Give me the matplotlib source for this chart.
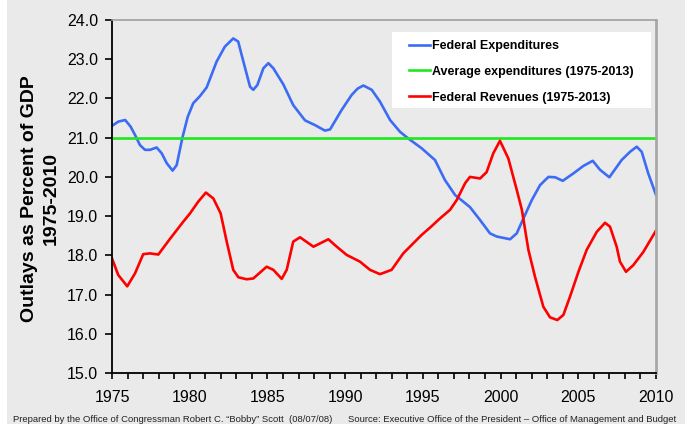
import matplotlib.pyplot as plt
from matplotlib.patches import Rectangle
from matplotlib.ticker import MultipleLocator

# values (fractional years)
exp_years = [1975.0, 1975.41, 1975.85, 1976.2, 1976.48, 1976.8, 1977.12, 1977.45, 1977.87, 1978.2,
             1978.52, 1978.9, 1979.16, 1979.53, 1979.87, 1980.23, 1980.66, 1981.09, 1981.73, 1982.26,
             1982.8, 1983.12, 1983.34, 1983.88, 1984.09, 1984.35, 1984.74, 1985.06, 1985.38, 1986.02,
             1986.66, 1987.42, 1988.06, 1988.7, 1989.03, 1989.78, 1990.42, 1990.8, 1991.17, 1991.71,
             1992.24, 1992.89, 1993.53, 1994.06, 1994.92, 1995.78, 1996.42, 1997.07, 1998.03, 1998.68,
             1999.32, 1999.75, 2000.61, 2001.04, 2001.47, 2002.01, 2002.54, 2003.08, 2003.51, 2004.0,
             2004.69, 2005.33, 2005.93, 2006.4, 2007.0, 2007.79, 2008.33, 2008.76, 2009.08, 2009.5,
             2010.0]
expenditures = [21.30, 21.41, 21.45, 21.28, 21.07, 20.81, 20.69, 20.69, 20.75, 20.60,
                20.35, 20.16, 20.30, 21.00, 21.53, 21.88, 22.06, 22.28, 22.94, 23.32,
                23.53, 23.45, 23.11, 22.30, 22.22, 22.34, 22.77, 22.90, 22.77, 22.36,
                21.83, 21.44, 21.32, 21.18, 21.21, 21.71, 22.09, 22.25, 22.33, 22.22,
                21.92, 21.45, 21.15, 20.98, 20.73, 20.43, 19.92, 19.54, 19.23, 18.90,
                18.56, 18.48, 18.41, 18.56, 18.94, 19.41, 19.79, 20.00, 19.99, 19.90,
                20.09, 20.28, 20.41, 20.18, 19.99, 20.43, 20.64, 20.77, 20.64, 20.09,
                19.54]

rev_years = [1975.0, 1975.4, 1975.98, 1976.48, 1977.01, 1977.44, 1977.98, 1978.73, 1979.59, 1980.02,
             1980.55, 1981.04, 1981.52, 1981.99, 1982.38, 1982.8, 1983.13, 1983.66, 1984.09, 1984.95,
             1985.38, 1985.92, 1986.24, 1986.66, 1987.1, 1987.96, 1988.92, 1989.46, 1990.1, 1990.95,
             1991.6, 1992.24, 1992.99, 1993.74, 1994.92, 1995.5, 1996.1, 1996.75, 1997.18, 1997.72,
             1998.03, 1998.68, 1999.1, 1999.53, 1999.96, 2000.5, 2001.04, 2001.37, 2001.79, 2002.21,
             2002.75, 2003.18, 2003.65, 2004.04, 2004.47, 2005.01, 2005.54, 2006.19, 2006.72, 2007.04,
             2007.47, 2007.68, 2008.07, 2008.54, 2009.19, 2010.0]
revenues = [17.92, 17.50, 17.21, 17.54, 18.03, 18.05, 18.02, 18.42, 18.86, 19.07,
            19.37, 19.60, 19.45, 19.07, 18.35, 17.63, 17.44, 17.39, 17.41, 17.71,
            17.63, 17.40, 17.63, 18.35, 18.46, 18.22, 18.41, 18.22, 18.01, 17.84,
            17.63, 17.52, 17.63, 18.05, 18.52, 18.72, 18.94, 19.16, 19.41, 19.84,
            20.00, 19.96, 20.12, 20.60, 20.92, 20.47, 19.67, 19.16, 18.14, 17.46,
            16.69, 16.42, 16.35, 16.48, 16.95, 17.58, 18.14, 18.60, 18.83, 18.73,
            18.22, 17.84, 17.58, 17.75, 18.09, 18.63]

avg_expenditures = 21.0

bg = '#eaeaea'
plt.rcParams['font.family'] = ['Liberation Sans', 'DejaVu Sans']

fig = plt.figure(figsize=(6.89, 4.24), dpi=100, facecolor='white')
fig.patches.append(Rectangle((7 / 689, 0), 678 / 689, 1, transform=fig.transFigure,
                             facecolor=bg, edgecolor='none', zorder=-10))
ax = fig.add_axes([112 / 689, 51 / 424, 544 / 689, 353 / 424])
ax.set_facecolor(bg)

ax.plot(exp_years, expenditures, color='#3c6cf5', lw=1.9, label='Federal Expenditures',
        solid_joinstyle='round')
ax.axhline(avg_expenditures, color='#1ee81e', lw=1.9, label='Average expenditures (1975-2013)')
ax.plot(rev_years, revenues, color='#ff0000', lw=1.9, label='Federal Revenues (1975-2013)',
        solid_joinstyle='round')

ax.set_xlim(1975, 2010)
ax.set_ylim(15, 24)
ax.xaxis.set_major_locator(MultipleLocator(5))
ax.xaxis.set_minor_locator(MultipleLocator(1))
ax.yaxis.set_major_locator(MultipleLocator(1))
ax.yaxis.set_major_formatter('{x:.1f}')
ax.tick_params(axis='both', direction='out', color='black', width=1.2, labelsize=11.5)
ax.tick_params(axis='y', length=5, pad=5)
ax.tick_params(axis='x', which='both', length=4, width=1.2, pad=8)

for side in ['left', 'bottom']:
    ax.spines[side].set_color('black')
    ax.spines[side].set_linewidth(1.3)
ax.spines['top'].set_color('#a0a0a0')
ax.spines['top'].set_linewidth(1.2)
ax.spines['right'].set_color('#a8a8a8')
ax.spines['right'].set_linewidth(2)

# white legend panel
ax.add_patch(Rectangle((0.5147, 0.7507), 0.4761, 0.2153, transform=ax.transAxes,
                       facecolor='white', edgecolor='none', zorder=4))
leg = ax.legend(loc='upper left', bbox_to_anchor=(0.546, 0.943), frameon=False,
                prop={'weight': 'bold', 'size': 9}, handlelength=1.7, handletextpad=0.15,
                labelspacing=1.1, borderpad=0, borderaxespad=0)
leg.set_zorder(5)

fig.text(40.5 / 689, 0.531, 'Outlays as Percent of GDP\n1975-2010', rotation=90,
         ha='center', va='center', multialignment='center', fontsize=14, fontweight='bold',
         linespacing=1.4)

fig.text(13 / 689, 2.5 / 424, 'Prepared by the Office of Congressman Robert C. \u201cBobby\u201d Scott  (08/07/08)',
         fontsize=6.8, color='#222222', ha='left', va='baseline')
fig.text(676 / 689, 2.5 / 424, 'Source: Executive Office of the President \u2013 Office of Management and Budget',
         fontsize=6.8, color='#222222', ha='right', va='baseline')

fig.savefig('out.png', dpi=100, facecolor='white')
